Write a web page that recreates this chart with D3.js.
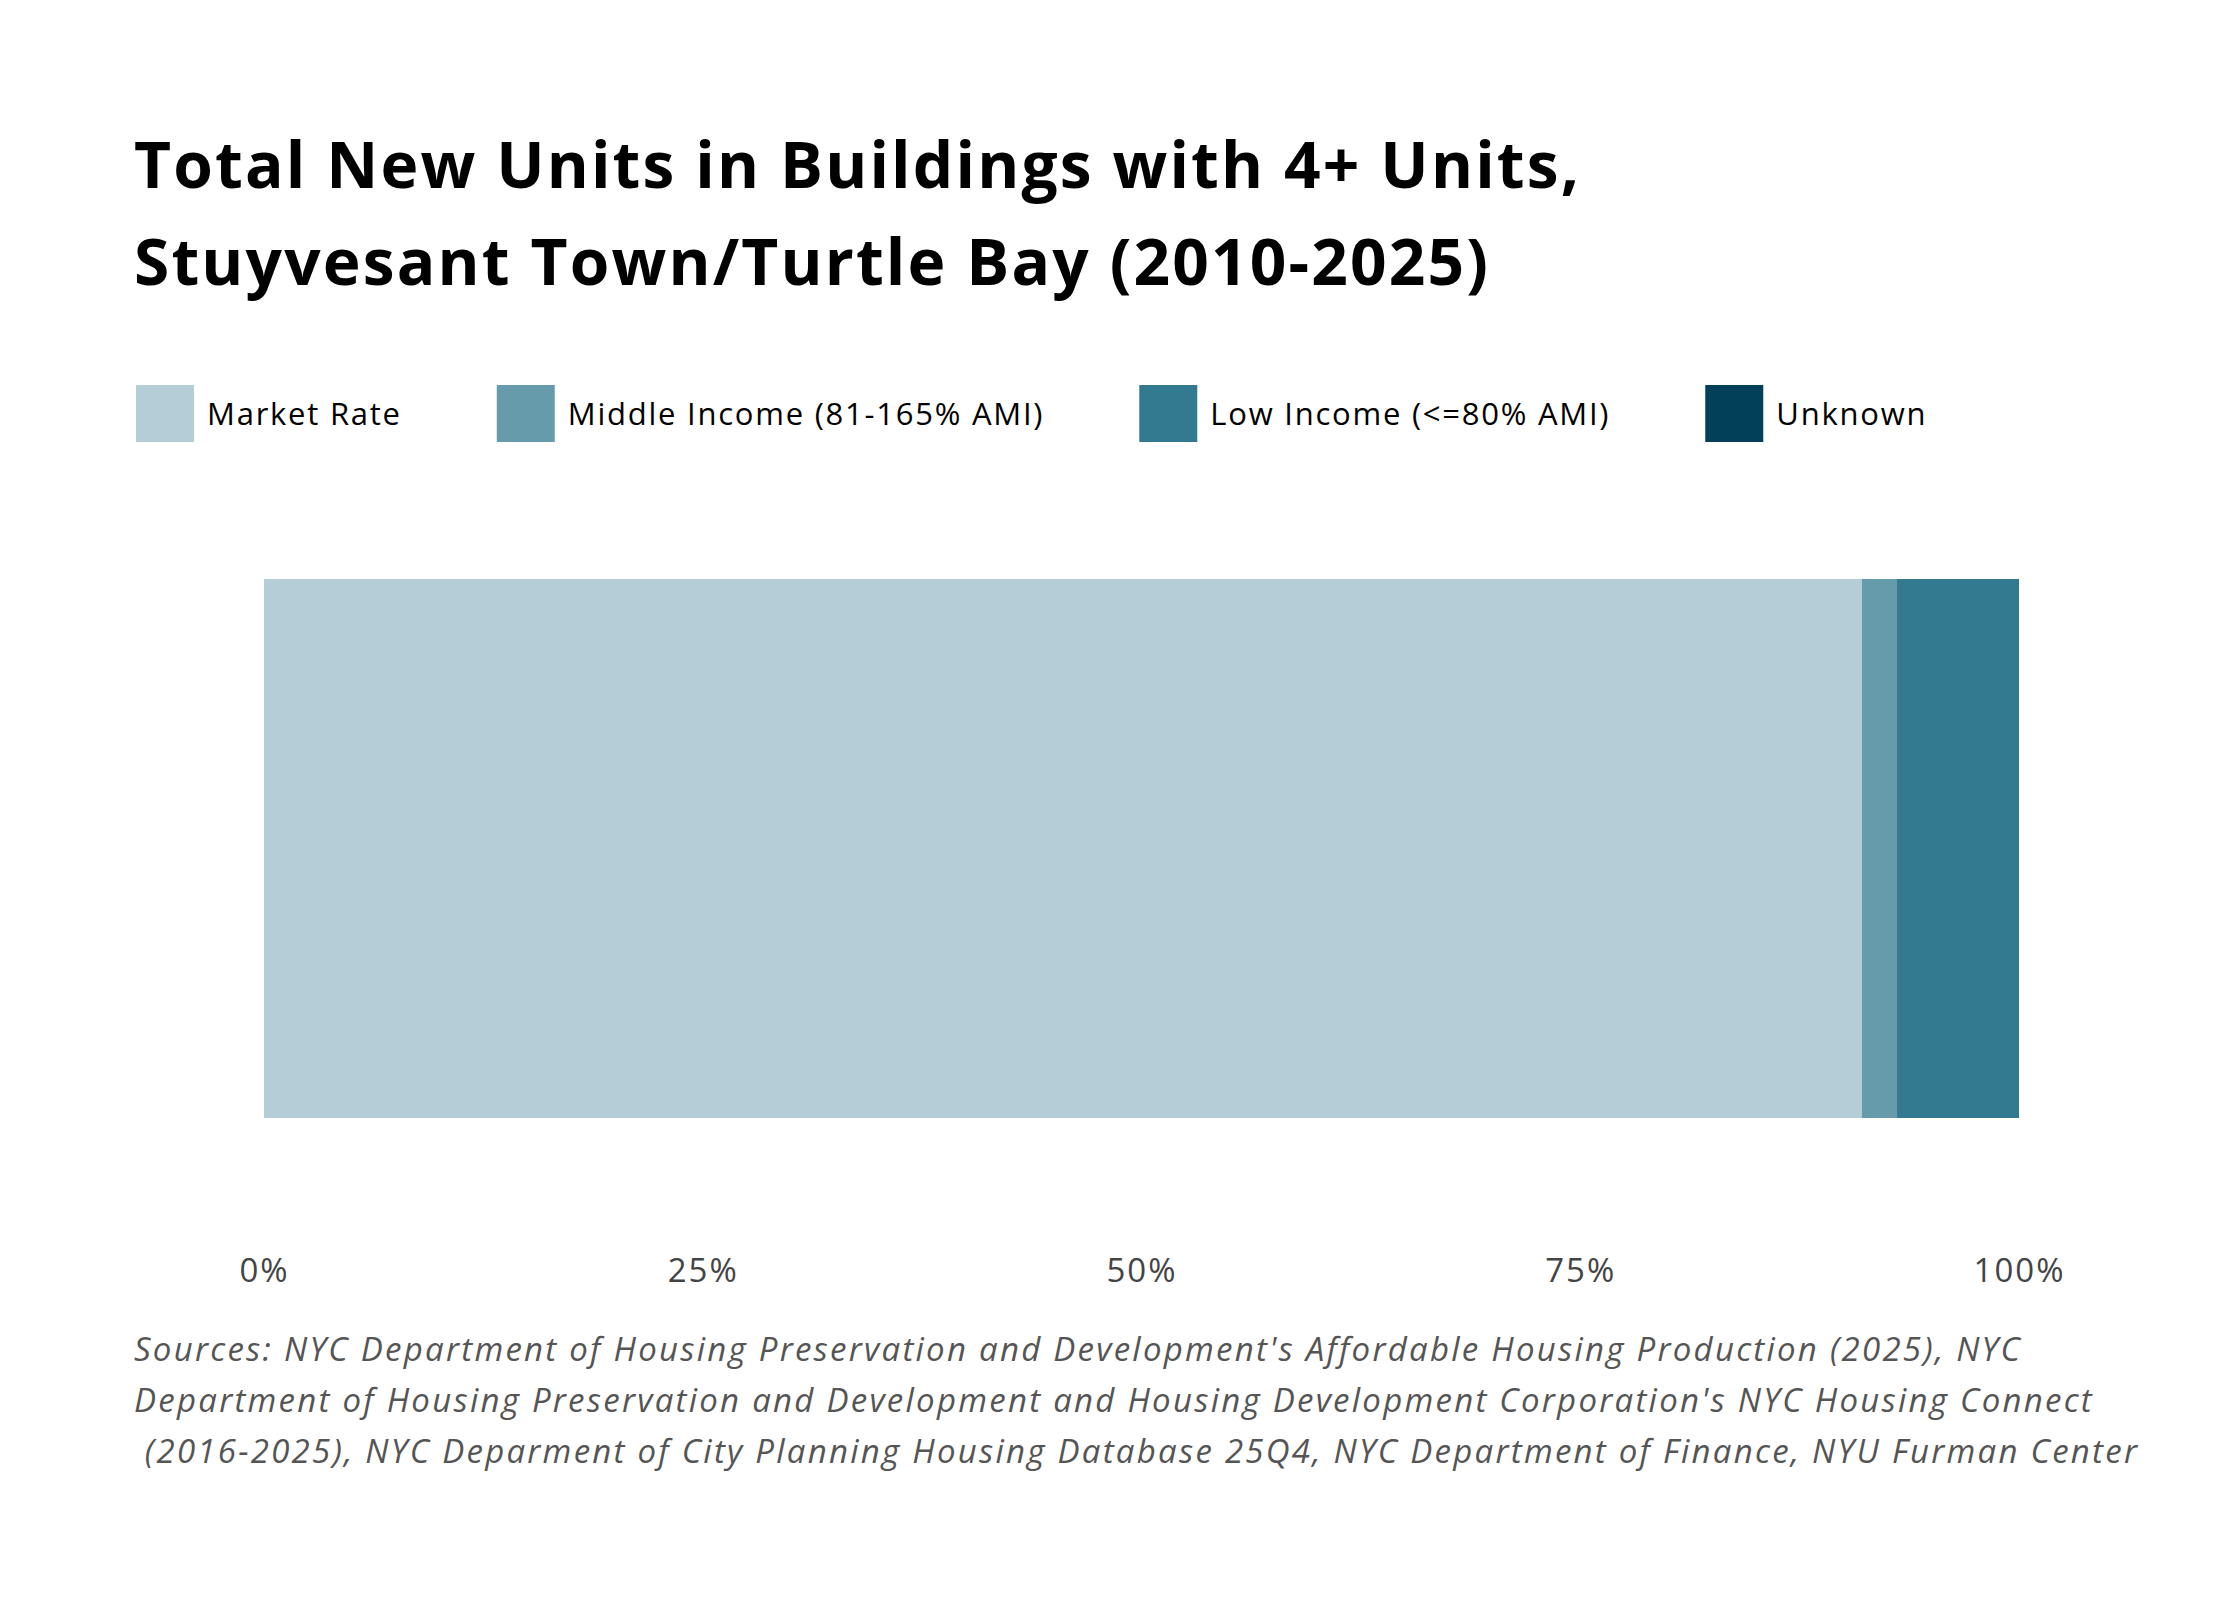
<!DOCTYPE html>
<html>
<head>
<meta charset="utf-8">
<script src="https://cdn.jsdelivr.net/npm/d3@7"></script>
<style>
  html, body { margin: 0; padding: 0; background: #ffffff; }
  svg { display: block; }
</style>
</head>
<body>
<svg id="chart" width="2240" height="1600"></svg>
<script>
// ---- data ----
const categories = ["Stuyvesant Town/Turtle Bay"];
const seriesNames = ["Market Rate", "Middle Income (81-165% AMI)", "Low Income (<=80% AMI)", "Unknown"];
const seriesColors = ["#b4cdd6", "#669bab", "#33798f", "#02405a"];
const marketRate = [91.05];
const middleIncome = [2.0];
const lowIncome = [6.95];
const unknown = [0];
const tickValues = [0, 25, 50, 75, 100];
const tickLabels = ["0%", "25%", "50%", "75%", "100%"];
const titleLines = ["Total New Units in Buildings with 4+ Units,", "Stuyvesant Town/Turtle Bay (2010-2025)"];
const sourceLines = [
  "Sources: NYC Department of Housing Preservation and Development's Affordable Housing Production (2025), NYC",
  "Department of Housing Preservation and Development and Housing Development Corporation's NYC Housing Connect",
  " (2016-2025), NYC Deparment of City Planning Housing Database 25Q4, NYC Department of Finance, NYU Furman Center"
];

const svg = d3.select("#chart");

// spread letters so a text line reaches the reference's width
function spacingFor(node, target) {
  const w = node.getComputedTextLength();
  const n = node.textContent.length;
  return (target - w) / Math.max(1, n - 1);
}

// title
const titles = svg.append("g").selectAll("text").data(titleLines).join("text")
  .attr("x", 134)
  .attr("y", (d, i) => 188 + i * 97)
  .attr("font-family", "'Open Sans', sans-serif")
  .attr("font-weight", 700)
  .attr("font-size", 64)
  .attr("fill", "#000")
  .text(d => d);
const tls = spacingFor(titles.nodes()[0], 1445);
titles.attr("letter-spacing", tls);

// legend
const legend = svg.append("g");
let lx = 136;
let legSpacing = null;
seriesNames.forEach((name, i) => {
  const g = legend.append("g").attr("transform", `translate(${lx},385)`);
  g.append("rect").attr("width", 58).attr("height", 57).attr("fill", seriesColors[i]);
  const t = g.append("text").attr("x", 71).attr("y", 40)
    .attr("font-family", "'Open Sans', sans-serif")
    .attr("font-size", 31)
    .attr("fill", "#000")
    .text(name);
  if (legSpacing === null) legSpacing = spacingFor(t.node(), 193);
  t.attr("letter-spacing", legSpacing);
  lx += 71 + t.node().getComputedTextLength() + 95;
});

// scales
const x = d3.scaleLinear().domain([0, 100]).range([264, 2019]);
const y = d3.scaleBand().domain(categories).range([579, 1118]).padding(0);

const stackData = categories.map((c, i) => ({
  cat: c, m: marketRate[i], mi: middleIncome[i], l: lowIncome[i], u: unknown[i]
}));
const stack = d3.stack().keys(["m", "mi", "l", "u"]);
const layers = stack(stackData);

svg.append("g").selectAll("g").data(layers).join("g")
  .attr("fill", (d, i) => seriesColors[i])
  .selectAll("rect").data(d => d).join("rect")
  .attr("x", d => x(d[0]))
  .attr("y", d => y(d.data.cat))
  .attr("width", d => x(d[1]) - x(d[0]))
  .attr("height", y.bandwidth());

// x axis
const axis = d3.axisBottom(x)
  .tickValues(tickValues)
  .tickFormat((d, i) => tickLabels[i])
  .tickSize(0)
  .tickPadding(0);
const ax = svg.append("g").attr("transform", "translate(0,1258)").call(axis);
ax.select(".domain").remove();
ax.selectAll("text")
  .attr("font-family", "'Open Sans', sans-serif")
  .attr("font-size", 33)
  .attr("letter-spacing", 2)
  .attr("fill", "#444")
  .attr("dy", "0.74em");

// sources
const src = svg.append("g").selectAll("text").data(sourceLines).join("text")
  .attr("x", 134)
  .attr("y", (d, i) => 1361 + i * 51)
  .attr("font-family", "'Open Sans', sans-serif")
  .attr("font-style", "italic")
  .attr("font-size", 33)
  .attr("fill", "#555")
  .attr("xml:space", "preserve")
  .style("white-space", "pre")
  .text(d => d);
const sls = spacingFor(src.nodes()[0], 1886);
src.attr("letter-spacing", sls);
</script>
</body>
</html>
